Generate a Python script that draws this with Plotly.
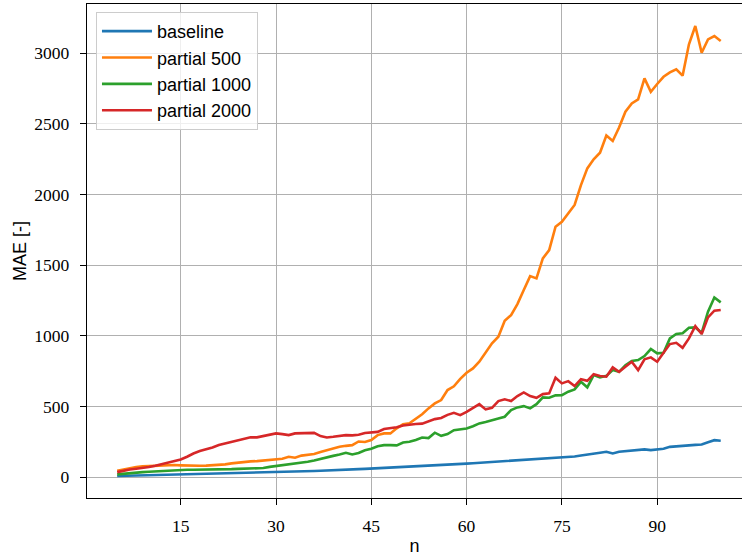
import plotly.graph_objects as go

n = list(range(5, 101))

baseline = [8, 9, 10, 11, 12, 13, 14, 15, 16, 17, 18, 19, 20, 21, 22, 23, 24, 25, 26, 27,
            29, 30, 31, 30, 32, 34, 35, 37, 38, 40, 41, 43, 45, 46, 48, 50, 51, 53, 56, 58,
            60, 62, 65, 67, 68, 70, 73, 75, 76, 78, 80, 83, 86, 88, 90, 95, 98, 101, 104, 110,
            108, 114, 118, 122, 124, 124, 127, 133, 135, 140, 143, 144, 146, 153, 161, 166, 172, 179, 167, 179,
            184, 186, 191, 196, 191, 196, 200, 214, 219, 219, 224, 228, 231, 247, 261, 257]

partial_500 = [45, 54, 64, 71, 76, 78, 80, 83, 85, 85, 83, 81, 80, 80, 81, 83, 86, 90, 97, 102,
               109, 111, 113, 118, 123, 127, 130, 144, 137, 152, 158, 163, 178, 191, 203, 214, 221, 226, 252, 248,
               262, 297, 309, 309, 345, 373, 380, 415, 444, 486, 521, 545, 616, 642, 695, 738, 769, 816, 880, 946,
               993, 1106, 1146, 1224, 1323, 1422, 1406, 1547, 1606, 1771, 1806, 1866, 1925, 2066, 2184, 2248, 2295, 2417, 2378, 2473,
               2585, 2644, 2672, 2821, 2726, 2781, 2832, 2863, 2885, 2840, 3062, 3191, 3002, 3097, 3120, 3085]

partial_1000 = [19, 24, 28, 31, 35, 38, 41, 45, 47, 50, 52, 52, 52, 52, 53, 53, 54, 55, 56, 58,
                60, 63, 66, 64, 72, 78, 82, 88, 92, 100, 109, 118, 130, 140, 150, 160, 172, 160, 170, 190,
                200, 218, 226, 226, 224, 245, 250, 262, 280, 276, 314, 292, 304, 332, 338, 344, 360, 380, 390, 400,
                415, 427, 474, 493, 502, 486, 516, 564, 561, 578, 580, 604, 620, 674, 635, 722, 705, 716, 757, 745,
                792, 821, 828, 856, 906, 875, 880, 981, 1012, 1017, 1057, 1059, 1021, 1170, 1271, 1236]

partial_2000 = [35, 45, 54, 59, 64, 71, 80, 92, 104, 113, 125, 144, 167, 184, 196, 210, 227, 238, 250, 262,
                273, 281, 281, 290, 300, 309, 304, 297, 309, 311, 311, 313, 290, 280, 285, 293, 297, 295, 300, 312,
                318, 320, 340, 345, 352, 365, 372, 376, 378, 395, 410, 418, 440, 455, 438, 462, 490, 516, 479, 490,
                538, 550, 538, 573, 599, 573, 561, 587, 592, 703, 663, 679, 644, 693, 681, 727, 715, 710, 776, 745,
                780, 816, 757, 833, 847, 816, 880, 941, 950, 915, 981, 1068, 1012, 1130, 1177, 1182]

series = [
    ("baseline", baseline, "#1f77b4"),
    ("partial 500", partial_500, "#ff7f0e"),
    ("partial 1000", partial_1000, "#2ca02c"),
    ("partial 2000", partial_2000, "#d62728"),
]

x_ticks = [15, 30, 45, 60, 75, 90]
y_ticks = [0, 500, 1000, 1500, 2000, 2500, 3000]

fig = go.Figure()
for name, vals, color in series:
    fig.add_trace(go.Scatter(x=n, y=vals, mode="lines", name=name,
                             line=dict(color=color, width=2.6)))

serif = "Liberation Serif"
sans = "Liberation Sans"

fig.update_layout(
    width=742, height=558,
    margin=dict(l=87, r=0, t=4, b=60),
    paper_bgcolor="white", plot_bgcolor="white",
    showlegend=True,
    legend=dict(x=0.0137, y=0.984, xanchor="left", yanchor="top",
                bgcolor="rgba(255,255,255,0.8)", bordercolor="#cccccc", borderwidth=1,
                itemwidth=50,
                font=dict(family=sans, size=18, color="black")),
    xaxis=dict(range=[0.25, 103.35], tickvals=x_ticks, ticktext=[str(t) for t in x_ticks],
               showgrid=True, gridcolor="#b0b0b0", gridwidth=1.3,
               showline=True, linecolor="black", linewidth=1.3, mirror=True,
               ticks="outside", ticklen=6, tickwidth=1.3, tickcolor="black",
               ticklabelstandoff=6,
               tickfont=dict(family=serif, size=17.5, color="black"),
               zeroline=False,
               title=dict(text="n", font=dict(family=sans, size=18, color="black"), standoff=4)),
    yaxis=dict(range=[-148, 3347], tickvals=y_ticks, ticktext=[str(t) for t in y_ticks],
               showgrid=True, gridcolor="#b0b0b0", gridwidth=1.3,
               showline=True, linecolor="black", linewidth=1.3,
               ticks="outside", ticklen=6, tickwidth=1.3, tickcolor="black",
               ticklabelstandoff=7,
               tickfont=dict(family=serif, size=17.5, color="black"),
               zeroline=False,
               title=dict(text="MAE [-]", font=dict(family=sans, size=18, color="black"), standoff=3)),
)

fig.write_html("out.html")
